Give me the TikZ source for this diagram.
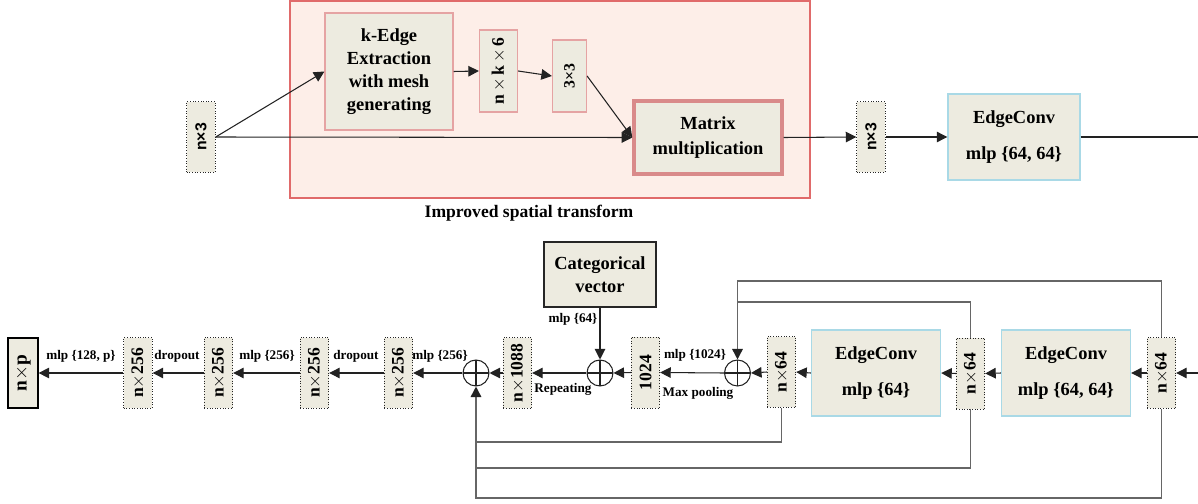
\documentclass[tikz,border=0pt]{standalone}
\usepackage{fontspec}
\setmainfont{Liberation Serif}
\setsansfont{Liberation Sans}
\usepackage{tikz}
\usetikzlibrary{arrows.meta}
\usetikzlibrary{positioning}

\definecolor{boxfill}{HTML}{EDEBE0}
\definecolor{stnfill}{HTML}{FDEEE8}
\definecolor{stnedge}{HTML}{E06A6A}
\definecolor{pinkedge}{HTML}{E5A3A3}
\definecolor{matedge}{HTML}{D98A8A}
\definecolor{blueedge}{HTML}{A9D9E6}
\definecolor{wire}{HTML}{222222}
\definecolor{skipwire}{HTML}{666666}

\newcommand{\vtext}[1]{\rotatebox{90}{#1}}

\begin{document}
\begin{tikzpicture}[x=0.02cm, y=-0.02cm,
  tensor/.style={rectangle, draw=black!85, densely dotted, line width=0.5pt, fill=boxfill, minimum width=0.57cm, minimum height=1.42cm, inner sep=0pt, font=\bfseries\fontsize{10}{12}\selectfont},
  block/.style={rectangle, draw=pinkedge, line width=0.7pt, fill=boxfill, align=center, inner sep=0pt, font=\bfseries\fontsize{10.5}{13}\selectfont},
  edgeconv/.style={rectangle, draw=blueedge, line width=0.8pt, fill=boxfill, align=center, minimum width=2.58cm, minimum height=1.72cm, inner sep=0pt, font=\bfseries\fontsize{10.5}{12.5}\selectfont},
  adder/.style={circle, draw=wire, line width=0.6pt, minimum size=0.52cm, inner sep=0pt, path picture={\draw [wire, line width=0.6pt] (path picture bounding box.north) -- (path picture bounding box.south) (path picture bounding box.west) -- (path picture bounding box.east);}},
  lbl/.style={font=\bfseries\fontsize{7.5}{9}\selectfont, inner sep=0pt},
  line/.style={draw=wire, line width=0.6pt},
  arrow/.style={draw=wire, line width=0.6pt, -{Triangle[length=6pt, width=6pt]}},
  skip/.style={draw=skipwire, line width=0.9pt},
  skiparrow/.style={skip, -{Triangle[length=6pt, width=6pt, color=wire]}}]
\useasboundingbox (0,0) rectangle (1198,504);
% improved spatial transform
\node [rectangle, draw=stnedge, line width=0.7pt, fill=stnfill, minimum width=10.4cm, minimum height=3.94cm, inner sep=0pt] (stn) at (550,99.5) {};
\node [font=\bfseries\fontsize{10}{12}\selectfont] (stnlabel) at (529,213) {Improved spatial transform};
\node [tensor, font=\sffamily\bfseries\fontsize{9}{10}\selectfont] (in3) at (201,137) {\vtext{n×3}};
\node [block, minimum width=2.56cm, minimum height=2.34cm] (kedge) at (389,71.5) {k-Edge\\Extraction\\with mesh\\generating};
\node [block, minimum width=0.76cm, minimum height=1.64cm, font=\bfseries\fontsize{10}{12}\selectfont] (nk6) at (498.5,71) {\vtext{n\,$\times$\,k\,$\times$\,6}};
\node [block, minimum width=0.68cm, minimum height=1.44cm, font=\bfseries\fontsize{9}{10}\selectfont] (t33) at (569.5,76) {\vtext{3×3}};
\node [block, draw=matedge, line width=2pt, minimum width=2.96cm, minimum height=1.46cm, font=\bfseries\fontsize{10.5}{14.5}\selectfont] (mat) at (708,137.5) {Matrix\\multiplication};
\node [tensor, font=\sffamily\bfseries\fontsize{9}{10}\selectfont] (in3b) at (871,137) {\vtext{n×3}};
\node [edgeconv, minimum width=2.64cm] (ec0) at (1014,137) {EdgeConv\\[8pt]mlp \{64, 64\}};
\coordinate (topexit) at (1198,137);
\draw [arrow] (in3.east) -- (kedge.west);
\draw [arrow] (in3.east) -- (mat.west);
\draw [arrow] (kedge.east) -- (nk6.west);
\draw [arrow] (nk6.east) -- (t33.west);
\draw [arrow] (t33.east) -- (mat.west);
\draw [arrow] (mat.east) -- (in3b.west);
\draw [arrow] (in3b.east) -- (ec0.west);
\draw [line] (ec0.east) -- (topexit);
% segmentation part
\node [tensor, draw=black, solid, line width=0.7pt, minimum width=0.6cm, minimum height=1.4cm, font=\bfseries\fontsize{11}{13}\selectfont] (np) at (23,373) {\vtext{n$\times$p}};
\node [tensor] (f1) at (138,373) {\vtext{n$\times$256}};
\node [tensor] (f2) at (218.5,373) {\vtext{n$\times$256}};
\node [tensor] (f3) at (314.5,373) {\vtext{n$\times$256}};
\node [tensor] (f4) at (398.5,373) {\vtext{n$\times$256}};
\node [adder] (s1) at (476,373) {};
\node [tensor] (cat) at (517.5,373) {\vtext{n$\times$1088}};
\node [adder] (s2) at (600,373) {};
\node [rectangle, draw=black!85, line width=0.6pt, fill=boxfill, minimum width=2.24cm, minimum height=1.3cm, align=center, inner sep=0pt, font=\bfseries\fontsize{10.5}{13}\selectfont] (cv) at (600,274.5) {Categorical\\vector};
\node [tensor] (pool) at (645.5,372.5) {\vtext{1024}};
\node [adder] (s3) at (737.5,373) {};
\node [tensor] (p1) at (781.5,372) {\vtext{n$\times$64}};
\node [edgeconv] (ec1) at (876,373) {EdgeConv\\[8pt]mlp \{64\}};
\node [tensor] (p2) at (970.5,373.5) {\vtext{n$\times$64}};
\node [edgeconv] (ec2) at (1066,373) {EdgeConv\\[8pt]mlp \{64, 64\}};
\node [tensor] (p3) at (1161.5,373) {\vtext{n$\times$64}};
\coordinate (bottomin) at (1198,373);
\draw [arrow] (bottomin) -- (p3.east);
\draw [arrow] (p3.west) -- (ec2.east);
\draw [arrow] (ec2.west) -- (p2.east);
\draw [arrow] (p2.west) -- (ec1.east);
\draw [arrow] (ec1.west) -- (p1.east);
\draw [arrow] (p1.west) -- (s3.east);
\draw [arrow] (s3.west) -- (pool.east);
\draw [arrow] (pool.west) -- (s2.east);
\draw [arrow] (cv.south) -- (s2.north);
\draw [arrow] (s2.west) -- (cat.east);
\draw [arrow] (cat.west) -- (s1.east);
\draw [arrow] (s1.west) -- (f4.east);
\draw [arrow] (f4.west) -- (f3.east);
\draw [arrow] (f3.west) -- (f2.east);
\draw [arrow] (f2.west) -- (f1.east);
\draw [arrow] (f1.west) -- (np.east);
% skip connections
\draw [skiparrow] (p3.north) |- (s3 |- 0,281) -- (s3.north);
\draw [skip] (p2.north) |- (s3 |- 0,302);
\draw [skip] (p1.south) |- (s1 |- 0,442);
\draw [skip] (p2.south) |- (s1 |- 0,468);
\draw [skiparrow] (p3.south) |- (s1 |- 0,498) -- (s1.south);
% labels
\node [lbl] (l1) at (81,356) {mlp \{128, p\}};
\node [lbl] (l2) at (177,356) {dropout};
\node [lbl] (l3) at (267,356) {mlp \{256\}};
\node [lbl] (l4) at (356,356) {dropout};
\node [lbl] (l5) at (440,356) {mlp \{256\}};
\node [lbl] (l6) at (573,319) {mlp \{64\}};
\node [lbl] (l7) at (695,355) {mlp \{1024\}};
\node [lbl] (l8) at (698,393) {Max pooling};
\node [lbl] (l9) at (563,389) {Repeating};
\end{tikzpicture}
\end{document}
